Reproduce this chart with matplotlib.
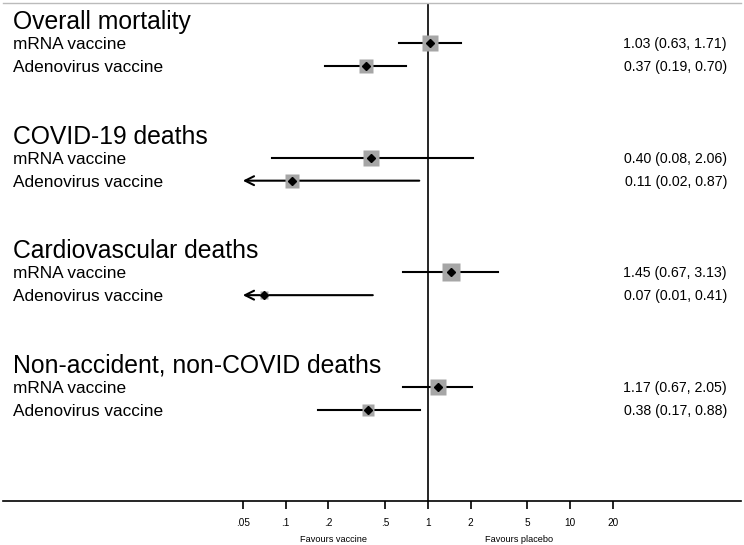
import numpy as np
import matplotlib.pyplot as plt
from matplotlib.transforms import blended_transform_factory

plt.rcParams['font.family'] = ['Liberation Sans', 'DejaVu Sans']

# data
outcomes = ['Overall mortality', 'COVID-19 deaths', 'Cardiovascular deaths',
            'Non-accident, non-COVID deaths']
vaccines = ['mRNA vaccine', 'Adenovirus vaccine']
hr = [1.03, 0.37, 0.40, 0.11, 1.45, 0.07, 1.17, 0.38]
lo = [0.63, 0.19, 0.08, 0.02, 0.67, 0.01, 0.67, 0.17]
hi = [1.71, 0.70, 2.06, 0.87, 3.13, 0.41, 2.05, 0.88]
weights = [16, 14, 16, 15, 18, 9, 16, 12]  # relative box widths
tick_vals = [0.05, 0.1, 0.2, 0.5, 1, 2, 5, 10, 20]
tick_labels = ['.05', '.1', '.2', '.5', '1', '2', '5', '10', '20']
xmin_clip = 0.05

ROW_PX = 22.9


def base_off(fs):
    # shift so the capitals sit centred on the row
    return 0.716 * fs * 100 / 72 / 2 / ROW_PX


fig = plt.figure(figsize=(7.44, 5.45), dpi=100)
ax = fig.add_axes([3 / 744, 44 / 545, 738 / 744, 498 / 545])
ax.set_xscale('log')
ax.set_xlim(0.00103, 159)
ax.set_ylim(20.99, -0.76)

trans = blended_transform_factory(ax.transAxes, ax.transData)

k = 0
for g, name in enumerate(outcomes):
    ybase = 5 * g
    ax.text(0.0135, ybase + base_off(17.8), name, transform=trans,
            fontsize=17.8, va='baseline', ha='left')
    for j, vac in enumerate(vaccines):
        y = ybase + 1 + j
        ax.text(0.0135, y + base_off(12.4), vac, transform=trans,
                fontsize=12.4, va='baseline', ha='left')
        ax.text(0.981, y + base_off(10.2),
                '%.2f (%.2f, %.2f)' % (hr[k], lo[k], hi[k]),
                transform=trans, fontsize=10.2, va='baseline', ha='right')
        if lo[k] < xmin_clip:
            ax.annotate('', xy=(xmin_clip, y), xytext=(hi[k], y),
                        arrowprops=dict(arrowstyle='->', lw=1.5,
                                        mutation_scale=16, color='black',
                                        shrinkA=0, shrinkB=0), zorder=2)
        else:
            ax.plot([lo[k], hi[k]], [y, y], color='black', lw=1.5, zorder=2)
        ax.plot(hr[k], y, marker='s', ms=weights[k] / 1.389, color='#a6a6a6',
                mec='none', zorder=3)
        ax.plot(hr[k], y, marker='D', ms=4.2, color='black', zorder=4)
        k += 1

ax.axvline(1, color='black', lw=1.2, zorder=1)

for s in ['left', 'right']:
    ax.spines[s].set_visible(False)
ax.spines['top'].set_color('#bbbbbb')
ax.spines['top'].set_linewidth(1.0)
ax.spines['bottom'].set_linewidth(1.2)

ax.set_yticks([])
ax.set_xticks(tick_vals)
ax.set_xticklabels(tick_labels)
ax.minorticks_off()
ax.tick_params(axis='x', direction='out', length=6, width=1.2,
               labelsize=7.2, pad=6)

fig.text(333 / 744, 1 - 539 / 545, 'Favours vaccine', fontsize=6.6,
         ha='center', va='center')
fig.text(519 / 744, 1 - 539 / 545, 'Favours placebo', fontsize=6.6,
         ha='center', va='center')

fig.savefig('out.png', dpi=100)
